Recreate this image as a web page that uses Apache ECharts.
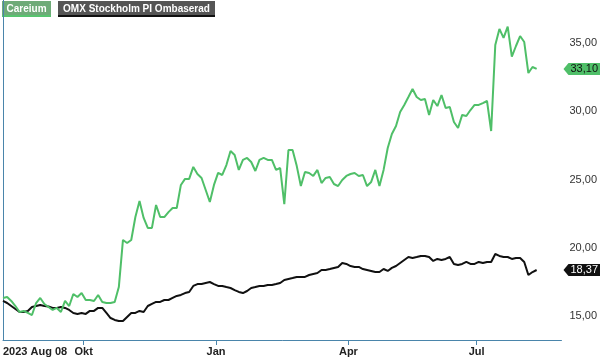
<!DOCTYPE html>
<html>
<head>
<meta charset="utf-8">
<script src="https://cdn.jsdelivr.net/npm/echarts@6/dist/echarts.min.js"></script>
<style>
html,body{margin:0;padding:0;background:#fff;}
#chart{width:600px;height:357px;}
</style>
</head>
<body>
<div id="chart"></div>
<script>
// Trading-day position (every 2nd trading day) of each sample
var sampleStep = 2;
var xMax = 270;

// Careium (green)
var careium = [
16.32,16.39,16.10,15.73,15.29,15.37,15.22,15.07,15.95,16.32,
15.88,15.66,15.44,15.59,15.29,16.10,15.73,16.61,16.39,16.68,
16.17,16.17,16.10,16.54,16.03,15.95,15.95,16.03,17.12,20.57,
20.35,20.57,22.25,23.42,22.18,21.45,21.45,23.13,22.25,22.25,
22.61,22.91,22.91,24.60,25.04,25.04,25.92,25.40,25.11,24.23,
23.35,24.60,25.48,25.33,26.06,27.09,26.79,25.70,26.43,26.58,
26.28,25.62,26.43,26.58,26.43,26.43,25.70,25.84,23.20,27.16,
27.16,26.00,24.52,25.55,25.48,25.26,25.70,24.74,25.11,25.18,
24.67,24.52,24.96,25.26,25.40,25.48,25.26,25.33,24.52,24.82,
25.70,24.52,25.70,27.31,28.33,28.92,29.95,30.46,31.04,31.63,
31.04,30.82,30.89,29.73,30.82,30.38,31.19,30.24,30.31,29.21,
28.77,29.73,29.65,30.09,30.46,30.46,30.60,30.75,28.55,34.85,
36.03,35.37,36.20,34.00,34.78,35.51,35.07,32.80,33.24,33.10
];

// OMX Stockholm PI Ombaserad (black)
var omx = [
16.10,15.95,15.73,15.51,15.29,15.29,15.37,15.66,15.73,15.81,
15.73,15.70,15.59,15.59,15.66,15.59,15.44,15.22,15.15,15.22,
15.15,15.37,15.37,15.59,15.59,15.22,14.85,14.71,14.63,14.63,
14.93,15.22,15.22,15.37,15.29,15.73,15.88,16.03,16.03,16.17,
16.17,16.32,16.47,16.54,16.68,16.76,17.20,17.34,17.34,17.42,
17.49,17.34,17.20,17.20,17.12,17.05,16.90,16.76,16.68,16.83,
17.05,17.12,17.20,17.20,17.27,17.27,17.34,17.42,17.64,17.71,
17.78,17.86,17.86,17.86,18.00,18.08,18.15,18.37,18.37,18.44,
18.52,18.59,18.88,18.81,18.66,18.59,18.59,18.44,18.37,18.30,
18.22,18.22,18.44,18.30,18.52,18.66,18.88,19.10,19.32,19.25,
19.32,19.40,19.40,19.32,19.03,19.18,19.10,19.18,19.32,18.81,
18.74,18.81,18.96,18.81,18.81,18.96,18.88,18.96,18.96,19.54,
19.40,19.32,19.32,19.18,19.25,19.25,18.96,18.00,18.22,18.37
];

var seriesNames = ['Careium', 'OMX Stockholm PI Ombaserad'];
var xTickPos = [0, 39, 103, 167, 229];
var xTickLabels = ['2023 Aug 08', 'Okt', 'Jan', 'Apr', 'Jul'];
var yTickValues = [15, 20, 25, 30, 35];

var GREEN = '#4fbf68';
var AXIS = '#4a85ab';

function toPairs(arr) {
  return arr.map(function (v, i) { return [i * sampleStep, v]; });
}
function fmt(v) { return v.toFixed(2).replace('.', ','); }

var chart = echarts.init(document.getElementById('chart'), null, {renderer: 'canvas'});
var option = {
  animation: false,
  backgroundColor: '#ffffff',
  grid: {left: 0, right: 38, top: 0, bottom: 17, containLabel: false},
  xAxis: {
    type: 'value', min: 0, max: xMax,
    splitLine: {show: false},
    axisLine: {show: true, lineStyle: {color: AXIS, width: 1}},
    axisTick: {show: true, customValues: xTickPos.slice(1), length: 5, lineStyle: {color: AXIS}},
    axisLabel: {
      customValues: xTickPos,
      margin: 6,
      color: '#222',
      fontFamily: 'Liberation Sans, Arial, sans-serif',
      fontSize: 11,
      fontWeight: 'bold',
      align: 'center',
      alignMinLabel: 'left',
      formatter: function (v) {
        var k = xTickPos.indexOf(v);
        return k >= 0 ? xTickLabels[k] : '';
      }
    }
  },
  yAxis: {
    type: 'value', position: 'right', min: 13.24, max: 38.15,
    splitLine: {show: false},
    axisLine: {show: true, lineStyle: {color: AXIS, width: 1}},
    axisTick: {show: false},
    axisLabel: {
      customValues: yTickValues,
      margin: 8,
      color: '#333',
      fontFamily: 'Liberation Sans, Arial, sans-serif',
      fontSize: 11,
      formatter: function (v) { return fmt(v); }
    }
  },
  series: [
    {
      name: seriesNames[1], type: 'line', data: toPairs(omx),
      showSymbol: false, symbol: 'none',
      lineStyle: {color: '#111', width: 2}, z: 2
    },
    {
      name: seriesNames[0], type: 'line', data: toPairs(careium),
      showSymbol: false, symbol: 'none',
      lineStyle: {color: GREEN, width: 2}, z: 3
    }
  ]
};
chart.setOption(option);

function tag(val, bg, fg) {
  var y = chart.convertToPixel({yAxisIndex: 0}, val);
  var x0 = chart.convertToPixel({xAxisIndex: 0}, xMax) + 2;
  var h = 12;
  return {
    type: 'group',
    children: [
      {type: 'polygon', shape: {points: [[x0, y], [x0 + 5, y - h / 2], [600, y - h / 2], [600, y + h / 2], [x0 + 5, y + h / 2]]},
       style: {fill: bg}},
      {type: 'text', x: x0 + 7, y: y, style: {text: fmt(val), fill: fg, font: '11px "Liberation Sans", Arial, sans-serif', verticalAlign: 'middle', align: 'left'}}
    ]
  };
}
function legendBox(x, w, text, bg, under) {
  return {
    type: 'group',
    children: [
      {type: 'rect', shape: {x: x, y: 1, width: w, height: 15}, style: {fill: bg}},
      {type: 'rect', shape: {x: x, y: 15, width: w, height: 2}, style: {fill: under}},
      {type: 'text', x: x + w / 2, y: 8.5, scaleX: 0.91, originX: 0, originY: 0,
       style: {text: text, fill: '#fff', font: 'bold 11px "Liberation Sans", Arial, sans-serif', verticalAlign: 'middle', align: 'center'}}
    ]
  };
}
chart.setOption({
  graphic: [
    legendBox(2, 49, seriesNames[0], '#6eab78', '#57c46f'),
    legendBox(58, 157, seriesNames[1], '#555555', '#111111'),
    tag(careium[careium.length - 1], GREEN, '#111'),
    tag(omx[omx.length - 1], '#111111', '#fff')
  ]
});
</script>
</body>
</html>
